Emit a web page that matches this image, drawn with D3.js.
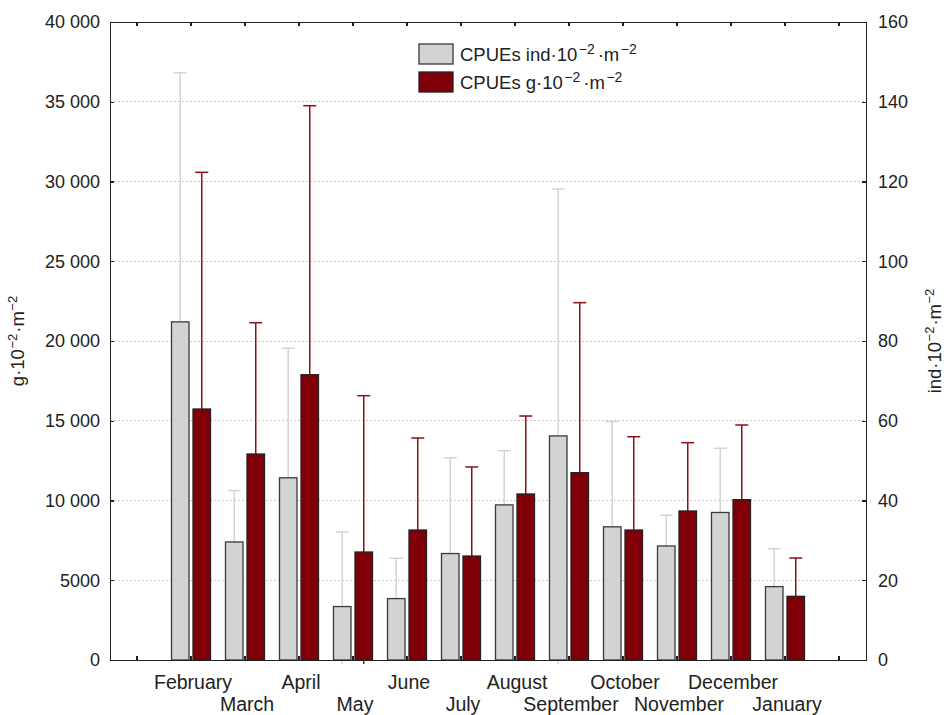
<!doctype html>
<html>
<head>
<meta charset="utf-8">
<script src="https://d3js.org/d3.v7.min.js"></script>
<style>
body { margin: 0; background: #fff; }
svg { font-family: "Liberation Sans", Arial, sans-serif; }
.axis text { font-size: 18px; fill: #222; }
.axis path, .axis line { stroke: #222; stroke-width: 1.2px; shape-rendering: crispEdges; }
.grid line { stroke: #c8c8c8; stroke-dasharray: 2,2; shape-rendering: crispEdges; }
</style>
</head>
<body>
<svg width="950" height="715"></svg>
<script>
// data
var months = ["February", "March", "April", "May", "June", "July", "August",
              "September", "October", "November", "December", "January"];
var indMean = [84.8, 29.6, 45.7, 13.4, 15.4, 26.7, 38.9, 56.2, 33.4, 28.6, 37.0, 18.4];
var indSd   = [62.5, 12.9, 32.5, 18.7, 10.1, 24.0, 13.6, 61.9, 26.4,  7.7, 16.1,  9.5];
var gMean = [15737, 12915, 17887, 6771, 8150, 6520, 10408, 11745, 8150, 9342, 10052, 3992];
var gSd   = [14840,  8232, 16866, 9800, 5768, 5580,  4890, 10658, 5850, 4283,  4682, 2403];
var gTicks = [0, 5000, 10000, 15000, 20000, 25000, 30000, 35000, 40000];
var indTicks = [0, 20, 40, 60, 80, 100, 120, 140, 160];

var svg = d3.select("svg"),
    margin = {top: 22, right: 84, bottom: 55, left: 110},
    width = +svg.attr("width") - margin.left - margin.right,
    height = +svg.attr("height") - margin.top - margin.bottom;

var slots = ["_a"].concat(months, ["_b"]);
var x = d3.scaleBand().domain(slots).range([0, width]).padding(0);
var yL = d3.scaleLinear().domain([0, 40000]).range([height, 0]);
var yR = d3.scaleLinear().domain([0, 160]).range([height, 0]);

var rows = months.map(function(m, i) {
  return {m: m, i: i, ind: indMean[i], indSd: indSd[i], g: gMean[i], gSd: gSd[i]};
});

var g = svg.append("g").attr("transform", "translate(" + margin.left + "," + margin.top + ")");

svg.append("defs").append("clipPath").attr("id", "clip")
  .append("rect").attr("x", 0).attr("y", 0).attr("width", width).attr("height", height + 4);

// gridlines
g.append("g").attr("class", "grid")
  .selectAll("line").data(gTicks.slice(1, -1)).enter().append("line")
  .attr("x1", 0).attr("x2", width)
  .attr("y1", function(d) { return yL(d); }).attr("y2", function(d) { return yL(d); });

var greyFill = "#d2d3d5", redFill = "#7f0009";
var barW = 17.5, gap = 2;
function cx(d) { return x(d.m) + x.bandwidth() / 2; }

// error bars (drawn behind the bars)
var err = g.append("g").attr("clip-path", "url(#clip)");
var eg = err.selectAll(".eg").data(rows).enter().append("g");
eg.append("line")
  .attr("x1", function(d) { return cx(d) - gap - barW / 2; })
  .attr("x2", function(d) { return cx(d) - gap - barW / 2; })
  .attr("y1", function(d) { return yR(d.ind - d.indSd); })
  .attr("y2", function(d) { return yR(d.ind + d.indSd); })
  .attr("stroke", "#d4d4d4").attr("stroke-width", 1.5);
eg.append("line")
  .attr("x1", function(d) { return cx(d) - gap - barW / 2 - 6.5; })
  .attr("x2", function(d) { return cx(d) - gap - barW / 2 + 6.5; })
  .attr("y1", function(d) { return yR(d.ind + d.indSd); })
  .attr("y2", function(d) { return yR(d.ind + d.indSd); })
  .attr("stroke", "#d4d4d4").attr("stroke-width", 1.5);
eg.append("line")
  .attr("x1", function(d) { return cx(d) + gap + barW / 2; })
  .attr("x2", function(d) { return cx(d) + gap + barW / 2; })
  .attr("y1", function(d) { return yL(d.g - d.gSd); })
  .attr("y2", function(d) { return yL(d.g + d.gSd); })
  .attr("stroke", "#8e1018").attr("stroke-width", 1.5);
eg.append("line")
  .attr("x1", function(d) { return cx(d) + gap + barW / 2 - 6.5; })
  .attr("x2", function(d) { return cx(d) + gap + barW / 2 + 6.5; })
  .attr("y1", function(d) { return yL(d.g + d.gSd); })
  .attr("y2", function(d) { return yL(d.g + d.gSd); })
  .attr("stroke", "#8e1018").attr("stroke-width", 1.5);

// bars
g.selectAll(".bi").data(rows).enter().append("rect")
  .attr("x", function(d) { return cx(d) - gap - barW; })
  .attr("y", function(d) { return yR(d.ind); })
  .attr("width", barW)
  .attr("height", function(d) { return height - yR(d.ind); })
  .attr("fill", greyFill).attr("stroke", "#3a3a3a").attr("stroke-width", 1.3);
g.selectAll(".bg").data(rows).enter().append("rect")
  .attr("x", function(d) { return cx(d) + gap; })
  .attr("y", function(d) { return yL(d.g); })
  .attr("width", barW)
  .attr("height", function(d) { return height - yL(d.g); })
  .attr("fill", redFill).attr("stroke", "#222").attr("stroke-width", 1.3);

// axes
function fmt(d) { return d >= 10000 ? d3.format(",")(d).replace(",", " ") : String(d); }
g.append("g").attr("class", "axis")
  .call(d3.axisLeft(yL).tickValues(gTicks).tickFormat(fmt).tickSize(-4).tickSizeOuter(0).tickPadding(10));
g.append("g").attr("class", "axis")
  .attr("transform", "translate(" + width + ",0)")
  .call(d3.axisRight(yR).tickValues(indTicks).tickSize(-4).tickSizeOuter(0).tickPadding(12));
g.append("g").attr("class", "axis")
  .call(d3.axisTop(x).tickSize(-4).tickSizeOuter(0).tickFormat(""));
g.append("g").attr("class", "axis")
  .attr("transform", "translate(0," + height + ")")
  .call(d3.axisBottom(x).tickSize(-4).tickSizeOuter(0).tickFormat(""));

// month labels, staggered in two rows
g.selectAll(".ml").data(rows).enter().append("text")
  .attr("x", function(d) { return cx(d) + 2; })
  .attr("y", function(d) { return height + (d.i % 2 === 0 ? 29 : 51); })
  .attr("text-anchor", "middle")
  .attr("font-size", 19.5).attr("fill", "#222")
  .text(function(d) { return d.m; });

// unit label helper: base·10^-2·m^-2
function unit(t, base, sup, gapPx) {
  t.append("tspan").text(base + "·10");
  t.append("tspan").attr("dy", -7).attr("dx", gapPx / 2).attr("font-size", sup).text("−2");
  t.append("tspan").attr("dy", 7).attr("dx", gapPx).text("·m");
  t.append("tspan").attr("dy", -7).attr("dx", gapPx / 2).attr("font-size", sup).text("−2");
}

var tl = svg.append("text")
  .attr("transform", "translate(24," + (margin.top + height / 2) + ") rotate(-90)")
  .attr("text-anchor", "middle").attr("font-size", 18.5).attr("fill", "#222");
unit(tl, "g", 13, 1);
var tr = svg.append("text")
  .attr("transform", "translate(941," + (margin.top + height / 2) + ") rotate(-90)")
  .attr("text-anchor", "middle").attr("font-size", 18.5).attr("fill", "#222");
unit(tr, "ind", 13, 1);

// legend
var legend = svg.append("g").attr("transform", "translate(419,44)");
var items = [{fill: greyFill, stroke: "#3a3a3a", base: "CPUEs ind"}, {fill: redFill, stroke: "#222", base: "CPUEs g"}];
items.forEach(function(it, i) {
  var row = legend.append("g").attr("transform", "translate(0," + (i * 28) + ")");
  row.append("rect").attr("width", 34).attr("height", 20)
    .attr("fill", it.fill).attr("stroke", it.stroke).attr("stroke-width", 1.3);
  var t = row.append("text").attr("x", 41).attr("y", 17).attr("font-size", 18.5).attr("fill", "#222");
  unit(t, it.base, 14, 3);
});
</script>
</body>
</html>
